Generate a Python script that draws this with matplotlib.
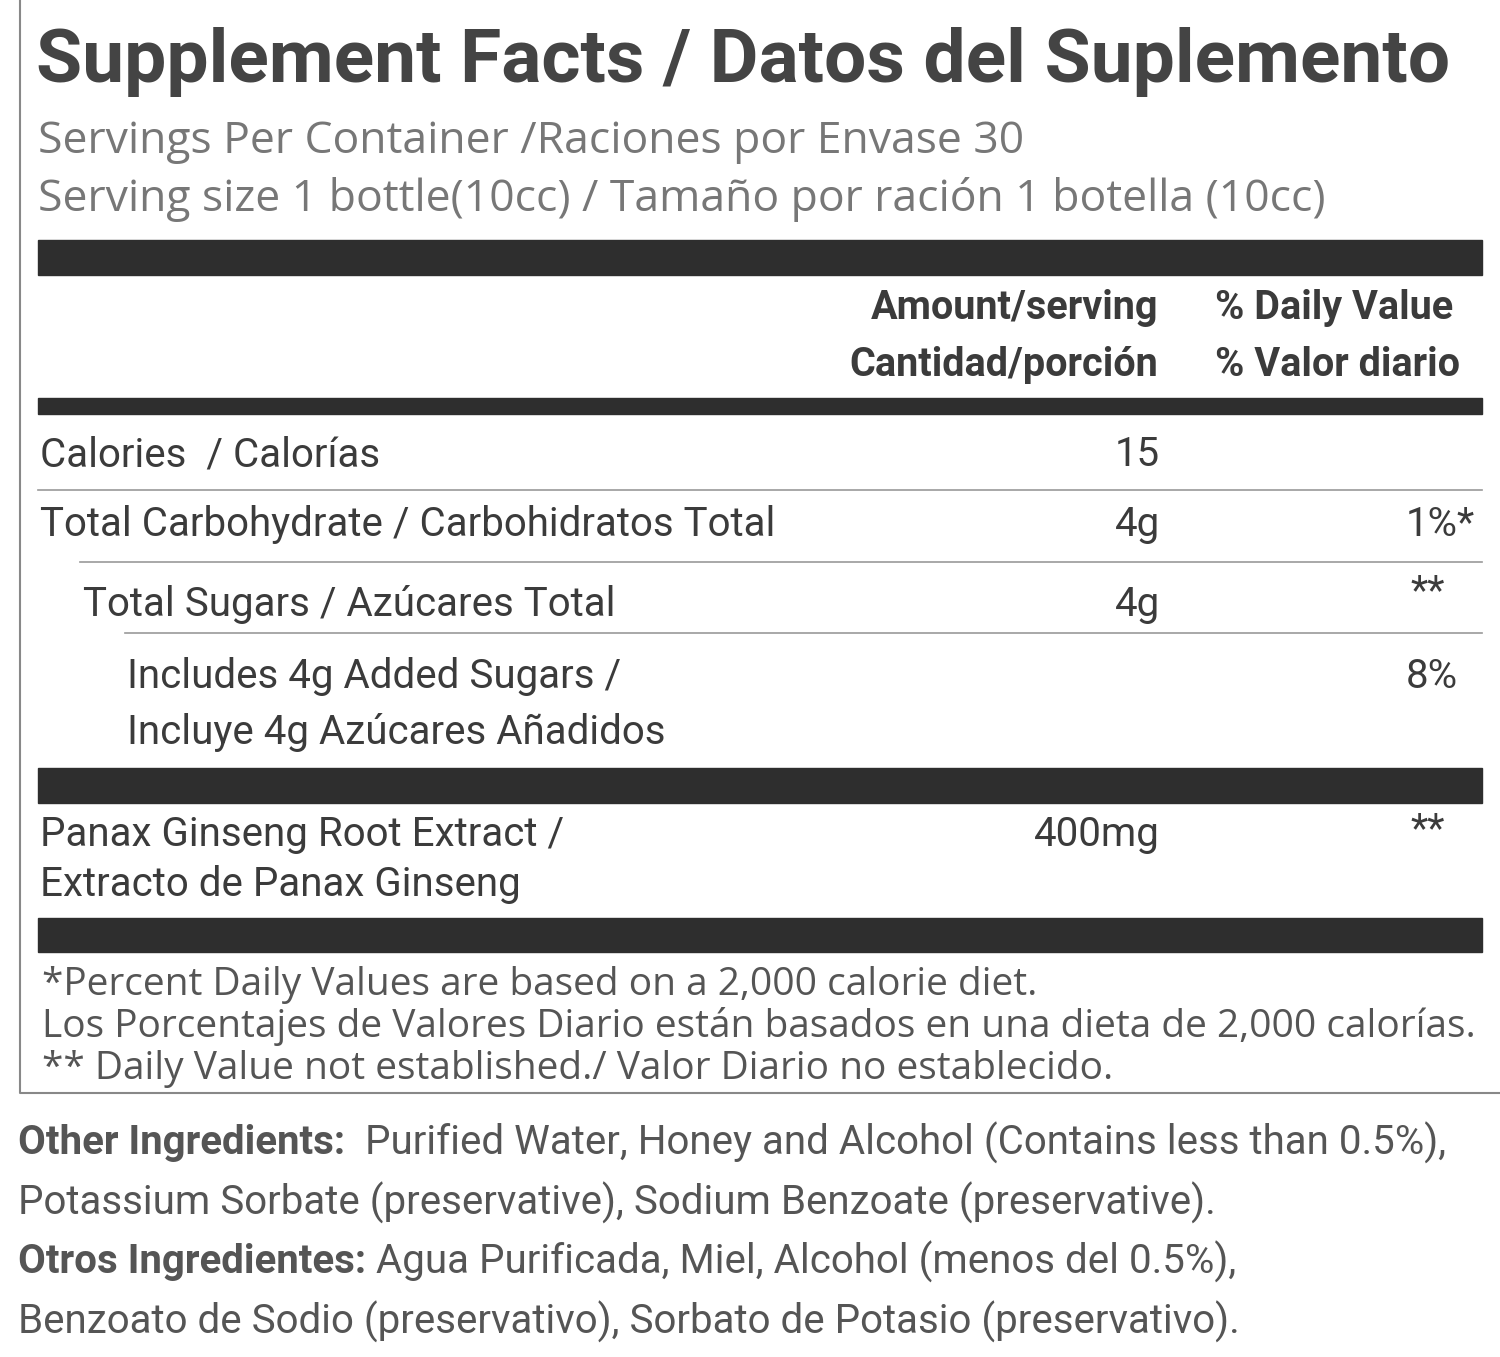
import matplotlib.pyplot as plt
from matplotlib.patches import Rectangle

# === Label content ===
title = "Supplement Facts / Datos del Suplemento"
servings = ["Servings Per Container /Raciones por Envase 30",
            "Serving size 1 bottle(10cc) / Tamaño por ración 1 botella (10cc)"]
head_amount = ["Amount/serving", "Cantidad/porción"]
head_dv = ["% Daily Value", "% Valor diario"]

row_names = [["Calories  / Calorías"],
             ["Total Carbohydrate / Carbohidratos Total"],
             ["Total Sugars / Azúcares Total"],
             ["Includes 4g Added Sugars /", "Incluye 4g Azúcares Añadidos"],
             ["Panax Ginseng Root Extract /", "Extracto de Panax Ginseng"]]
row_amounts = ["15", "4g", "4g", "", "400mg"]
row_dv = ["", "1%*", "**", "8%", "**"]

footnotes = ["*Percent Daily Values are based on a 2,000 calorie diet.",
             "Los Porcentajes de Valores Diario están basados en una dieta de 2,000 calorías.",
             "** Daily Value not established./ Valor Diario no establecido."]
other_ing = [("Other Ingredients:", "  Purified Water, Honey and Alcohol (Contains less than 0.5%),"),
             ("", "Potassium Sorbate (preservative), Sodium Benzoate (preservative)."),
             ("Otros Ingredientes:", " Agua Purificada, Miel, Alcohol (menos del 0.5%),"),
             ("", "Benzoato de Sodio (preservativo), Sorbato de Potasio (preservativo).")]

# === Layout (pixels) ===
row_y = [455, 525, 605, 676, 835]
row_x = [40, 40, 83, 127, 40]
line_gap = [0, 0, 0, 57, 50]
dv_x = [1475, 1475, 1445, 1458, 1445]
dv_y = [455, 525, 592, 676, 830]
thin_lines = [(490, 38), (562, 80), (633, 125)]
bars = [(240, 275), (398, 414), (768, 803), (918, 952)]
ink = '#3b3b3b'

fig = plt.figure(figsize=(15, 13.57), dpi=100)
ax = fig.add_axes([0, 0, 1, 1])
ax.set_xlim(0, 1500)
ax.set_ylim(1357, 0)
ax.axis('off')

# box border
ax.plot([20, 20, 1500], [0, 1093, 1093], color='#888888', lw=1.5)

ax.text(36, 62, title, fontsize=54, fontweight='bold', family='Roboto',
        color='#444444', va='center', ha='left')
for i, s in enumerate(servings):
    ax.text(38, 142 + 58 * i, s, fontsize=32, family='Open Sans', color='#777777', va='center')

for y0, y1 in bars:
    ax.add_patch(Rectangle((38, y0), 1444, y1 - y0, color='#2e2e2e'))
for y, x0 in thin_lines:
    ax.plot([x0, 1482], [y, y], color='#999999', lw=1.2)

for i in range(2):
    ax.text(1158, 308 + 57 * i, head_amount[i], fontsize=28.5, fontweight='bold',
            family='Roboto', color=ink, ha='right', va='center')
    ax.text(1215, 308 + 57 * i, head_dv[i], fontsize=28.5, fontweight='bold',
            family='Roboto', color=ink, ha='left', va='center')

for names, amt, dv, y, x, gap, dx, dy in zip(row_names, row_amounts, row_dv, row_y,
                                             row_x, line_gap, dv_x, dv_y):
    for j, n in enumerate(names):
        ax.text(x, y + j * gap, n, fontsize=29, family='Roboto', color=ink, va='center')
    ax.text(1160, y, amt, fontsize=29, family='Roboto', color=ink, ha='right', va='center')
    ax.text(dx, dy, dv, fontsize=29, family='Roboto', color=ink, ha='right', va='center')

for i, s in enumerate(footnotes):
    ax.text(42, 985 + 42 * i, s, fontsize=28, family='Open Sans', color='#555555', va='center')

fig.canvas.draw()
renderer = fig.canvas.get_renderer()
for i, (lab, rest) in enumerate(other_ing):
    y = 1143 + 59.5 * i
    x = 18
    if lab:
        t = ax.text(x, y, lab, fontsize=29, fontweight='bold', family='Roboto',
                    color='#555555', va='center')
        bb = t.get_window_extent(renderer)
        x = ax.transData.inverted().transform((bb.x1, bb.y0))[0]
    ax.text(x, y, rest, fontsize=29, family='Roboto', color='#555555', va='center')

fig.savefig('out.png', dpi=100, facecolor='white')
